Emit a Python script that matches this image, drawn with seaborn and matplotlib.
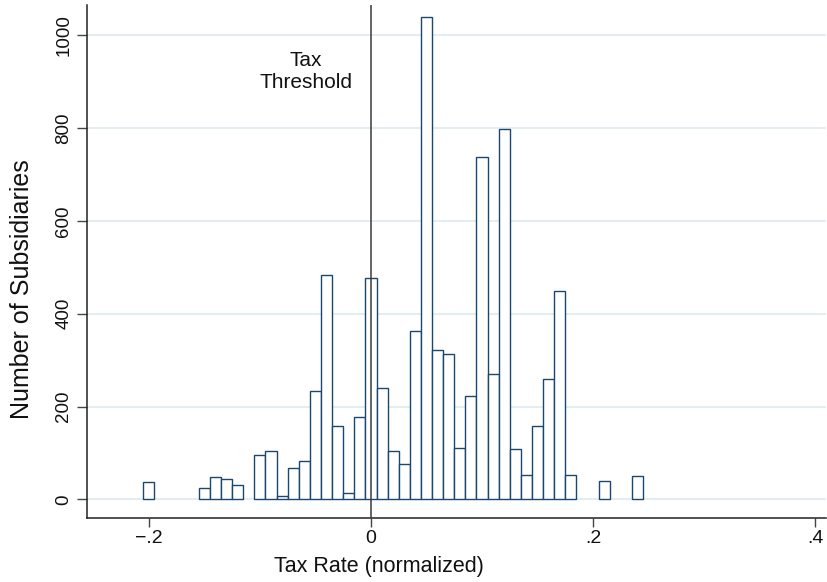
import numpy as np
import pandas as pd
import matplotlib
matplotlib.use("Agg")
import matplotlib.pyplot as plt
import seaborn as sns

# Bin centres (normalized tax rate, bin width 0.01) and subsidiary counts
rate_bins = [-0.20, -0.15, -0.14, -0.13, -0.12, -0.10, -0.09, -0.08, -0.07,
             -0.06, -0.05, -0.04, -0.03, -0.02, -0.01, 0.00, 0.01, 0.02,
             0.03, 0.04, 0.05, 0.06, 0.07, 0.08, 0.09, 0.10, 0.11, 0.12,
             0.13, 0.14, 0.15, 0.16, 0.17, 0.18, 0.21, 0.24]
subsidiaries = [38, 25, 49, 45, 32, 96, 105, 7, 67,
                83, 234, 483, 158, 14, 177, 477, 240, 104,
                77, 362, 1039, 322, 314, 111, 222, 738, 271, 798,
                108, 52, 159, 259, 449, 53, 40, 50]

x_ticks = [-0.2, 0.0, 0.2, 0.4]
x_tick_labels = ["\u2212.2", "0", ".2", ".4"]
y_ticks = [0, 200, 400, 600, 800, 1000]
y_tick_labels = ["0", "200", "400", "600", "800", "1000"]

threshold = 0.0
bin_width = 0.01

sns.set_theme(style="white")
plt.rcParams["font.family"] = ["Liberation Sans", "DejaVu Sans"]

fig = plt.figure(figsize=(8.28, 5.82), dpi=100)
fig.patch.set_facecolor("white")
ax = fig.add_axes([87 / 828, (582 - 518) / 582, (826 - 87) / 828, (518 - 5) / 582])

df = pd.DataFrame({"rate": rate_bins, "count": subsidiaries})
sns.histplot(data=df, x="rate", weights="count",
             binwidth=bin_width,
             binrange=(min(rate_bins) - bin_width / 2, max(rate_bins) + bin_width / 2),
             color="white", edgecolor="#1a476f", linewidth=1.0, alpha=1,
             ax=ax, zorder=2)
# hide empty bins so they leave gaps on the baseline
for patch in ax.patches:
    if patch.get_height() == 0:
        patch.set_visible(False)

ax.axvline(threshold, color="#3a3a3a", lw=1.1, zorder=3)
ax.text(-0.0585, 921, "Tax\nThreshold", ha="center", va="center",
        fontsize=15, linespacing=1.2, color="#111111")

ax.set_xlim(-0.2557, 0.4097)
ax.set_ylim(-40, 1065)

ax.set_xticks(x_ticks)
ax.set_xticklabels(x_tick_labels)
ax.set_yticks(y_ticks)
ax.set_yticklabels(y_tick_labels, rotation=90, va="center")

ax.yaxis.grid(True, color="#e4edf1", lw=1.5)
ax.xaxis.grid(False)
ax.set_axisbelow(True)

for side in ("top", "right"):
    ax.spines[side].set_visible(False)
for side in ("left", "bottom"):
    ax.spines[side].set_color("#222222")
    ax.spines[side].set_linewidth(1.1)

ax.tick_params(axis="x", direction="out", length=6.5, width=1, color="#444444",
               labelsize=14, pad=2, labelcolor="#111111", bottom=True)
ax.tick_params(axis="y", direction="out", length=7, width=1, color="#444444",
               labelsize=13.5, pad=3.5, labelcolor="#111111", left=True)

ax.set_xlabel("Tax Rate (normalized)", fontsize=15.5, color="#111111",
              va="center", ha="center")
ax.xaxis.set_label_coords(0.395, -0.0936)
ax.set_ylabel("Number of Subsidiaries", fontsize=18, color="#111111",
              va="center", ha="center")
ax.yaxis.set_label_coords(-0.088, 0.446)

fig.savefig("out.png", dpi=100, facecolor="white")
